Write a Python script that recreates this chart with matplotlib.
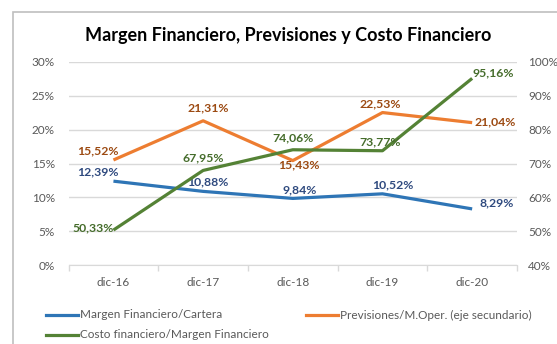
import matplotlib
matplotlib.use("Agg")
import matplotlib.pyplot as plt
from matplotlib.patches import Rectangle
from matplotlib.ticker import FixedLocator

plt.rcParams['font.family'] = ['Lato', 'DejaVu Sans']

categories = ["dic-16", "dic-17", "dic-18", "dic-19", "dic-20"]
margen_cartera = [12.39, 10.88, 9.84, 10.52, 8.29]
previsiones = [15.52, 21.31, 15.43, 22.53, 21.04]
costo_margen = [50.33, 67.95, 74.06, 73.77, 95.16]

left_ticks = [0, 5, 10, 15, 20, 25, 30]
right_ticks = [40, 50, 60, 70, 80, 90, 100]

W, H = 557, 344
fig = plt.figure(figsize=(W / 100, H / 100), dpi=100)
fig.patch.set_facecolor("white")

# chart frame
fig.patches.append(Rectangle((13.5 / W, -0.1), 1.2, (H - 12) / H + 0.1,
                             transform=fig.transFigure, fill=False,
                             edgecolor="#BFBFBF", linewidth=1.2))

pl, pr, pt, pb = 68.6, 517.0, 62.0, 265.0
ax = fig.add_axes([pl / W, (H - pb) / H, (pr - pl) / W, (pb - pt) / H])
ax2 = ax.twinx()

x = list(range(len(categories)))
blue, orange, green = "#2E75B6", "#ED7D31", "#548235"
blue_t, orange_t, green_t = "#2F4A7F", "#9C4A12", "#466D2C"

ax.plot(x, margen_cartera, color=blue, lw=2.3, solid_capstyle="butt", zorder=3)
ax.plot(x, previsiones, color=orange, lw=2.3, solid_capstyle="butt", zorder=3)
ax2.plot(x, costo_margen, color=green, lw=2.3, solid_capstyle="butt", zorder=3)

ax.set_xlim(-0.5, len(categories) - 0.5)
ax.set_ylim(0, 30)
ax2.set_ylim(40, 100)
ax.set_yticks(left_ticks)
ax.set_yticklabels([f"{t}%" for t in left_ticks])
ax2.set_yticks(right_ticks)
ax2.set_yticklabels([f"{t}%" for t in right_ticks])
ax.set_xticks(x)
ax.set_xticklabels(categories)
ax.xaxis.set_minor_locator(FixedLocator([i - 0.5 for i in range(len(categories) + 1)]))

grid_c = "#D9D9D9"
ax.grid(axis="y", color=grid_c, lw=1.0)
ax.set_axisbelow(True)
for a in (ax, ax2):
    for s in a.spines.values():
        s.set_visible(False)
ax.spines["bottom"].set_visible(True)
ax.spines["bottom"].set_color(grid_c)
ax.tick_params(axis="x", which="major", length=0, pad=9, labelsize=8.5, labelcolor="#595959")
ax.tick_params(axis="x", which="minor", length=4, color=grid_c, width=1.0)
ax.tick_params(axis="y", length=0, pad=10, labelsize=8.5, labelcolor="#595959")
ax2.tick_params(axis="y", length=0, pad=8, labelsize=8.5, labelcolor="#595959")

def fmt(v):
    return f"{v:.2f}%".replace(".", ",")

lab_kw = dict(textcoords="offset pixels", fontsize=8.8, fontweight="bold",
              ha="center", va="center", zorder=5)
blue_off = [(-16, 9), (5, 10), (7, 9), (10, 9), (25, 6)]
orange_off = [(-16, 9), (5, 13), (6, -4), (-2, 9), (23, 1)]
green_off = [(-20, 2), (0, 13), (0, 12), (-2, 9), (21, 6)]

for i, v in enumerate(margen_cartera):
    ax.annotate(fmt(v), (i, v), xytext=blue_off[i], color=blue_t, **lab_kw)
for i, v in enumerate(previsiones):
    ax.annotate(fmt(v), (i, v), xytext=orange_off[i], color=orange_t, **lab_kw)
for i, v in enumerate(costo_margen):
    ax2.annotate(fmt(v), (i, v), xytext=green_off[i], color=green_t, **lab_kw)

fig.text(288 / W, 1 - 35 / H, "Margen Financiero, Previsiones y Costo Financiero",
         ha="center", va="center", fontsize=13, fontweight="bold", color="black")

# legend
leg_items = [
    ("Margen Financiero/Cartera", blue, 46, 315),
    ("Previsiones/M.Oper. (eje secundario)", orange, 306, 315),
    ("Costo financiero/Margen Financiero", green, 46, 335),
]
for label, col, lx, ly in leg_items:
    fig.add_artist(plt.Line2D([lx / W, (lx + 32) / W], [1 - ly / H, 1 - ly / H],
                              transform=fig.transFigure, color=col, lw=2.3))
    fig.text((lx + 34) / W, 1 - ly / H, label, ha="left", va="center",
             fontsize=8.5, color="#595959")

fig.savefig("out.png", dpi=100, facecolor="white")
